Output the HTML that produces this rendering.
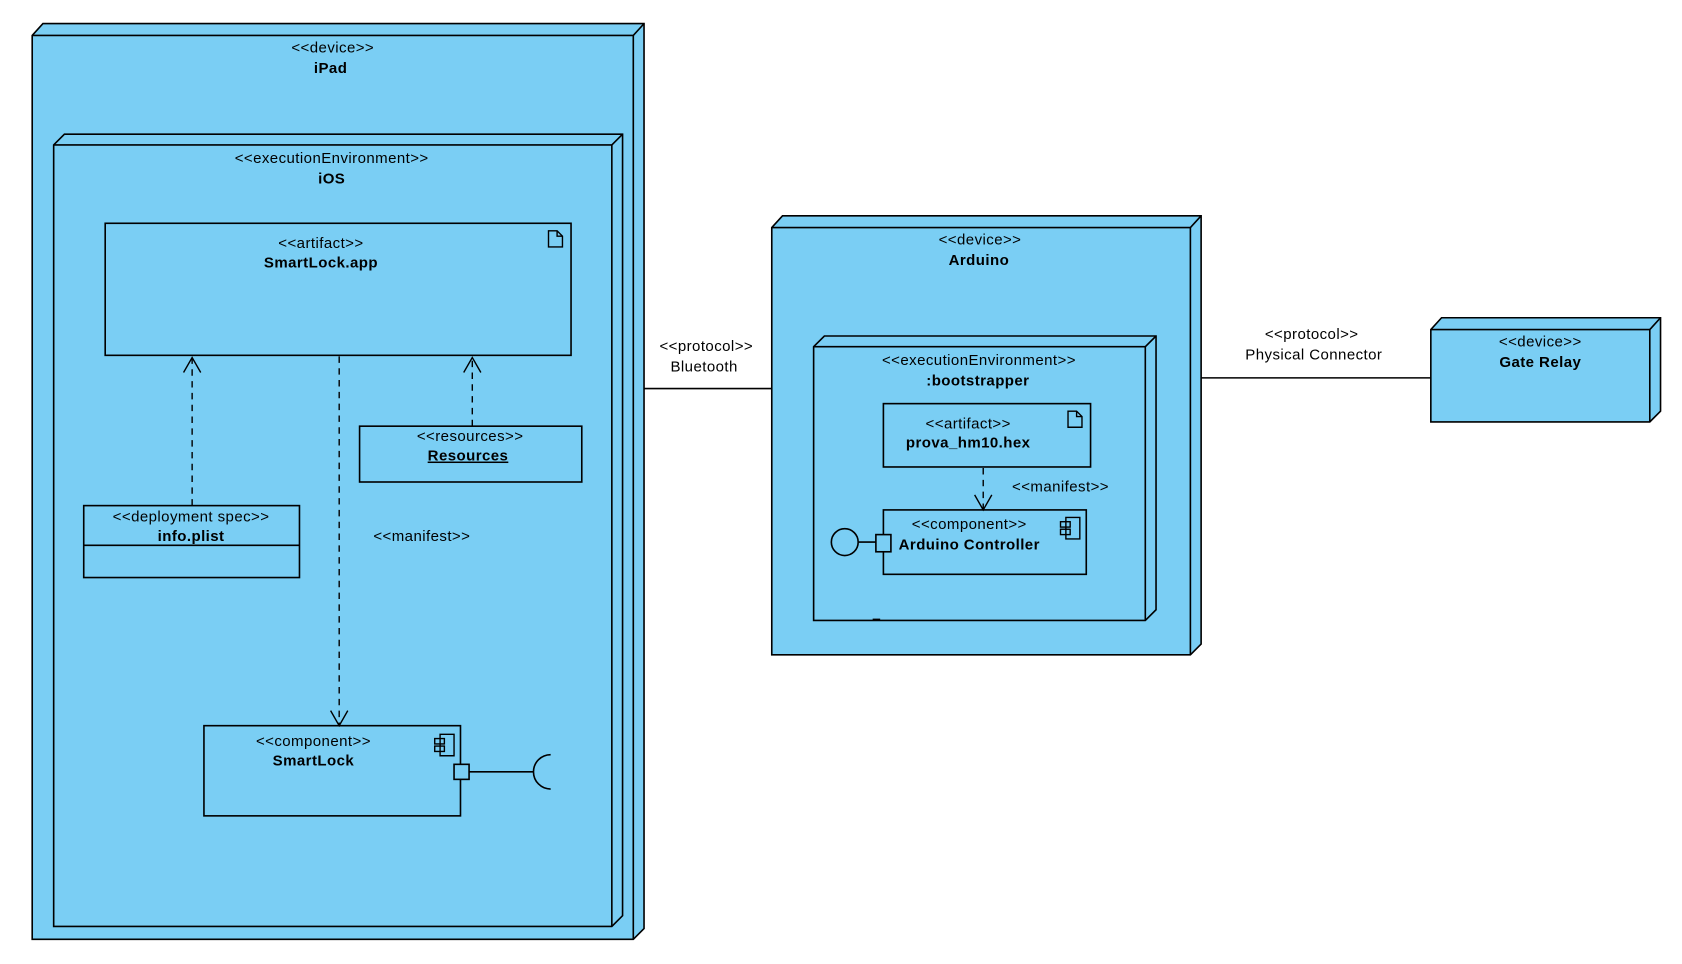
<!DOCTYPE html>
<html><head><meta charset="utf-8"><style>
html,body{margin:0;padding:0;background:#fff;}
svg{display:block;}
text{font-family:"Liberation Sans",sans-serif;font-size:14px;letter-spacing:0.4px;fill:#000;}
.b{font-weight:bold;}
</style></head><body>
<svg width="1682" height="964" viewBox="0 0 1567 898" preserveAspectRatio="none" xmlns="http://www.w3.org/2000/svg">
<g stroke="#000" stroke-width="1.5" fill="#7ACEF4">
<polygon points="30,33 40,22 600,22 600,865 590,875 30,875"/>
<polyline points="30,33 590,33 600,22" fill="none"/>
<line x1="590" y1="33" x2="590" y2="875"/>
<polygon points="50,135 60,125 580,125 580,853 570,863 50,863"/>
<polyline points="50,135 570,135 580,125" fill="none"/>
<line x1="570" y1="135" x2="570" y2="863"/>
<rect x="98" y="208" width="434" height="123"/>
<rect x="335" y="397" width="207" height="52"/>
<rect x="78" y="471" width="201" height="67"/>
<line x1="78" y1="508" x2="279" y2="508"/>
<rect x="190" y="676" width="239" height="84"/>
<rect x="423" y="712" width="14" height="14"/>
<line x1="437" y1="719" x2="497" y2="719"/>
<path d="M513,703 A16,16 0 0 0 513,735" fill="none"/>
<polygon points="719,212 729,201 1119,201 1119,600 1109,610 719,610"/>
<polyline points="719,212 1109,212 1119,201" fill="none"/>
<line x1="1109" y1="212" x2="1109" y2="610"/>
<polygon points="758,323 768,313 1077,313 1077,568 1067,578 758,578"/>
<polyline points="758,323 1067,323 1077,313" fill="none"/>
<line x1="1067" y1="323" x2="1067" y2="578"/>
<rect x="823" y="376" width="193" height="59"/>
<rect x="823" y="475" width="189" height="60"/>
<rect x="816" y="498" width="14" height="16"/>
<circle cx="787" cy="505" r="12.5"/>
<line x1="800" y1="505" x2="816" y2="505"/>
<line x1="813" y1="577" x2="820" y2="577"/>
<polygon points="1333,307 1343,296 1547,296 1547,383 1537,393 1333,393"/>
<polyline points="1333,307 1537,307 1547,296" fill="none"/>
<line x1="1537" y1="307" x2="1537" y2="393"/>
<line x1="600" y1="362" x2="719" y2="362"/>
<line x1="1119" y1="352" x2="1333" y2="352"/>
</g>
<g stroke="#000" stroke-width="1.3" fill="none">
<line x1="179" y1="471" x2="179" y2="334" stroke-dasharray="6,5"/>
<polyline points="171,347 179,333 187,347"/>
<line x1="440" y1="397" x2="440" y2="334" stroke-dasharray="6,5"/>
<polyline points="432,347 440,333 448,347"/>
<line x1="316" y1="332" x2="316" y2="675" stroke-dasharray="6,5"/>
<polyline points="308,662 316,676 324,662"/>
<line x1="916" y1="436" x2="916" y2="474" stroke-dasharray="6,5"/>
<polyline points="908,461 916,475 924,461"/>
<path d="M511,215 h8 l5,5 v10 h-13 z M519,215 v5 h5"/>
<path d="M995,383 h8 l5,5 v10 h-13 z M1003,383 v5 h5"/>
<path d="M410,684 h13 v20 h-13 z"/><rect x="405" y="688" width="9" height="5"/><rect x="405" y="695" width="9" height="5"/>
<path d="M993,482 h13 v20 h-13 z"/><rect x="988" y="486" width="9" height="5"/><rect x="988" y="493" width="9" height="5"/>
</g>
<g text-anchor="middle">
<text x="310" y="49">&lt;&lt;device&gt;&gt;</text><text class="b" x="308" y="68">iPad</text>
<text x="309" y="152">&lt;&lt;executionEnvironment&gt;&gt;</text><text class="b" x="309" y="171">iOS</text>
<text x="299" y="231">&lt;&lt;artifact&gt;&gt;</text><text class="b" x="299" y="249">SmartLock.app</text>
<text x="438" y="411">&lt;&lt;resources&gt;&gt;</text><text class="b" x="436" y="429" text-decoration="underline">Resources</text>
<text x="178" y="486">&lt;&lt;deployment spec&gt;&gt;</text><text class="b" x="178" y="504">info.plist</text>
<text x="393" y="504">&lt;&lt;manifest&gt;&gt;</text>
<text x="292" y="695">&lt;&lt;component&gt;&gt;</text><text class="b" x="292" y="713">SmartLock</text>
<text x="658" y="327">&lt;&lt;protocol&gt;&gt;</text><text x="656" y="346">Bluetooth</text>
<text x="913" y="228">&lt;&lt;device&gt;&gt;</text><text class="b" x="912" y="247">Arduino</text>
<text x="912" y="340">&lt;&lt;executionEnvironment&gt;&gt;</text><text class="b" x="911" y="359">:bootstrapper</text>
<text x="902" y="399">&lt;&lt;artifact&gt;&gt;</text><text class="b" x="902" y="417">prova_hm10.hex</text>
<text x="988" y="458">&lt;&lt;manifest&gt;&gt;</text>
<text x="903" y="493">&lt;&lt;component&gt;&gt;</text><text class="b" x="903" y="512">Arduino Controller</text>
<text x="1222" y="316">&lt;&lt;protocol&gt;&gt;</text><text x="1224" y="335">Physical Connector</text>
<text x="1435" y="323">&lt;&lt;device&gt;&gt;</text><text class="b" x="1435" y="342">Gate Relay</text>
</g>
</svg>
</body></html>
